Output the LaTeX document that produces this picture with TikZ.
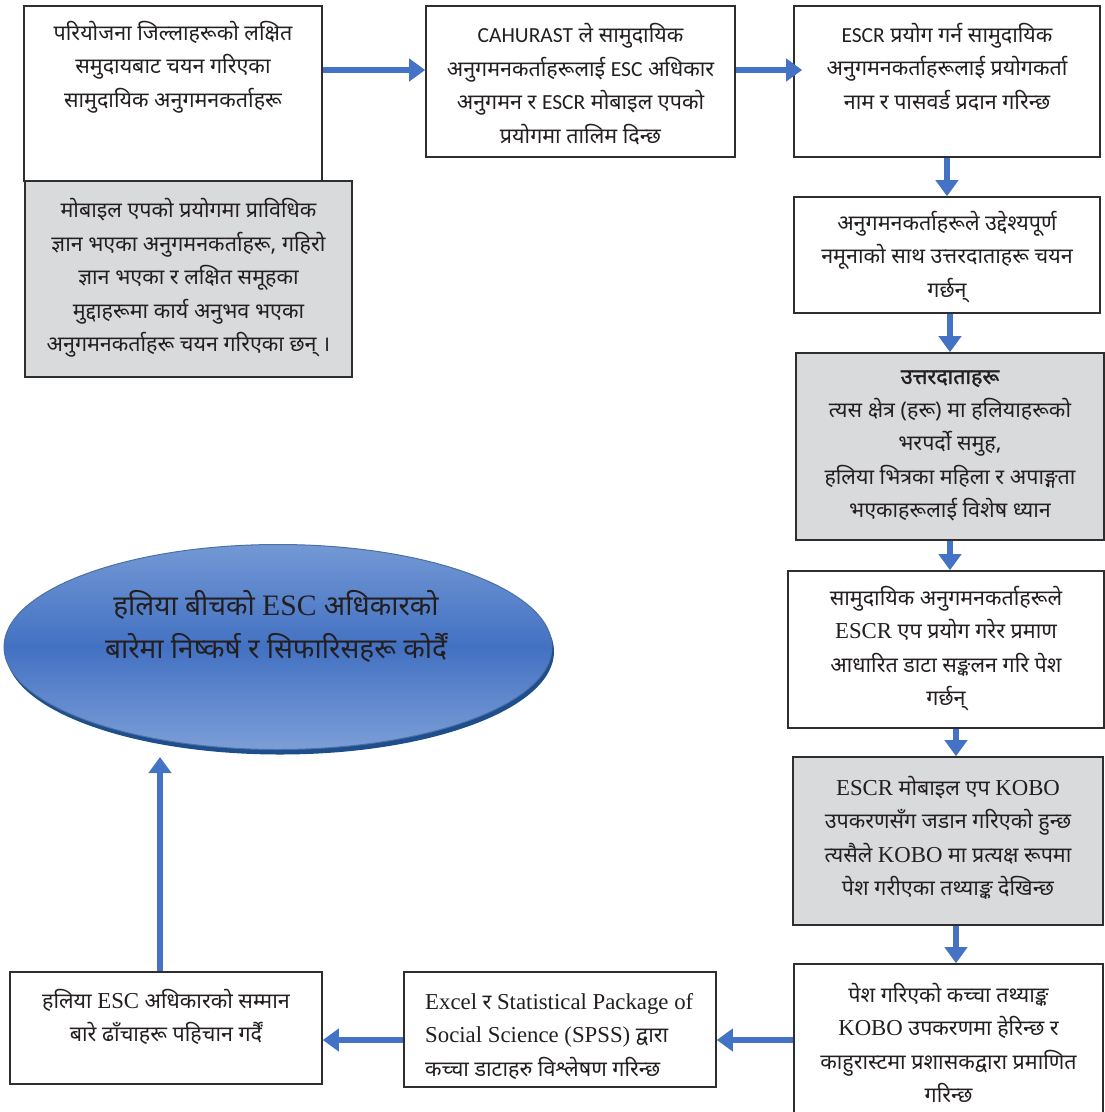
\documentclass[tikz,border=0pt]{standalone}
\usepackage{fontspec}
\usetikzlibrary{arrows.meta,shapes.geometric,calc}
\newfontfamily\dev[Script=Devanagari]{Noto Sans}
\newfontfamily\devb[Script=Devanagari,FakeBold=1.6]{Noto Sans}
\newfontfamily\tms[Scale=1.06]{Liberation Serif}
\newfontfamily\cbr{Carlito}
\newcommand{\tm}[1]{{\tms #1}}
\newcommand{\cb}[1]{{\cbr #1}}
\definecolor{arrblue}{HTML}{4472C4}
\definecolor{txtc}{HTML}{231F20}
\definecolor{boxgray}{HTML}{D9DADC}
\definecolor{bord}{HTML}{2E2E2E}
\definecolor{ellTop}{HTML}{7398D4}
\definecolor{ellMid}{HTML}{4371C2}
\definecolor{ellBot}{HTML}{7C9ED8}
\definecolor{ellRim}{HTML}{1F4E8C}
\tikzset{
  box/.style={draw=bord, line width=1.6pt, fill=white, inner sep=0pt},
  graybox/.style={box, fill=boxgray},
  txt/.style={align=center, text=txtc, inner sep=0pt, font=\dev\fontsize{21.5}{33.5}\selectfont},
  ltxt/.style={txt, align=left},
  arr/.style={draw=arrblue, line width=6.5pt, -{Triangle[width=22pt,length=16pt]}},
}
\begin{document}
\begin{tikzpicture}[x=1pt,y=-1pt]
\useasboundingbox (0,0) rectangle (1105,1112);
% boxes
\node[box, minimum width=298pt, minimum height=175pt] (A) at (173,93.5) {};
\node[graybox, minimum width=327pt, minimum height=196pt] (B) at (188.5,279) {};
\node[box, minimum width=309pt, minimum height=151pt] (C) at (580.5,81.5) {};
\node[box, minimum width=306pt, minimum height=151pt] (D) at (947,81.5) {};
\node[box, minimum width=306pt, minimum height=116pt] (E) at (947,255) {};
\node[graybox, minimum width=308pt, minimum height=187pt] (F) at (950,446.5) {};
\node[box, minimum width=316pt, minimum height=157pt] (G) at (946,649.5) {};
\node[graybox, minimum width=310pt, minimum height=168pt] (H) at (948,841) {};
\node[box, minimum width=309pt, minimum height=161pt] (I) at (948.5,1044.5) {};
\node[box, minimum width=312pt, minimum height=115pt] (J) at (560,1029.5) {};
\node[box, minimum width=312pt, minimum height=112pt] (K) at (166,1028) {};
% ellipse
\node[ellipse, fill=ellRim, minimum width=548pt, minimum height=206pt, inner sep=0pt] (Lsh) at (280,651.5) {};
\node[ellipse, draw=ellRim!80!white, line width=1pt, top color=ellTop, bottom color=ellBot, middle color=ellMid, minimum width=548pt, minimum height=205pt, inner sep=0pt] (L) at (278,647) {};
% texts
\node[txt] (At) at (173,67) {परियोजना जिल्लाहरूको लक्षित\\ समुदायबाट चयन गरिएका\\ सामुदायिक अनुगमनकर्ताहरू};
\node[txt] (Bt) at (188.5,278) {मोबाइल एपको प्रयोगमा प्राविधिक\\ ज्ञान भएका अनुगमनकर्ताहरू, गहिरो\\ ज्ञान भएका र लक्षित समूहका\\ मुद्दाहरूमा कार्य अनुभव भएका\\ अनुगमनकर्ताहरू चयन गरिएका छन् ।};
\node[txt] (Ct) at (580.5,84) {\cb{CAHURAST} ले सामुदायिक\\ अनुगमनकर्ताहरूलाई \cb{ESC} अधिकार\\ अनुगमन र \cb{ESCR} मोबाइल एपको\\ प्रयोगमा तालिम दिन्छ};
\node[txt] (Dt) at (947,67) {\cb{ESCR} प्रयोग गर्न सामुदायिक\\ अनुगमनकर्ताहरूलाई प्रयोगकर्ता\\ नाम र पासवर्ड प्रदान गरिन्छ};
\node[txt] (Et) at (947,257) {अनुगमनकर्ताहरूले उद्देश्यपूर्ण\\ नमूनाको साथ उत्तरदाताहरू चयन\\ गर्छन्};
\node[txt] (Ft) at (950,446) {{\devb उत्तरदाताहरू}\\ त्यस क्षेत्र (हरू) मा हलियाहरूको\\ भरपर्दो समुह,\\ हलिया भित्रका महिला र अपाङ्गता\\ भएकाहरूलाई विशेष ध्यान};
\node[txt] (Gt) at (946,648.5) {सामुदायिक अनुगमनकर्ताहरूले\\ \tm{ESCR} एप प्रयोग गरेर प्रमाण\\ आधारित डाटा सङ्कलन गरि पेश\\ गर्छन्};
\node[txt] (Ht) at (948,838) {\tm{ESCR} मोबाइल एप \tm{KOBO}\\ उपकरणसँग जडान गरिएको हुन्छ\\ त्यसैले \tm{KOBO} मा प्रत्यक्ष रूपमा\\ पेश गरीएका तथ्याङ्क देखिन्छ};
\node[txt] (It) at (948.5,1043) {पेश गरिएको कच्चा तथ्याङ्क\\ \tm{KOBO} उपकरणमा हेरिन्छ र\\ काहुरास्टमा प्रशासकद्वारा प्रमाणित\\ गरिन्छ};
\node[ltxt, anchor=west] (Jt) at (425,1036) {\tm{Excel} र \tm{Statistical Package of}\\ \tm{Social Science (SPSS)} द्वारा\\ कच्चा डाटाहरु विश्लेषण गरिन्छ};
\node[txt] (Kt) at (166,1017) {हलिया \tm{ESC} अधिकारको सम्मान\\ बारे ढाँचाहरू पहिचान गर्दैं};
\node[txt, font=\dev\fontsize{28}{43}\selectfont] (Lt) at (276,626) {हलिया बीचको \tm{ESC} अधिकारको\\ बारेमा निष्कर्ष र सिफारिसहरू कोर्दैं};
% connectors
\coordinate (tipL) at (160,757);
\draw[arr] (A.east |- 0,70) -- (C.west |- 0,70);
\draw[arr] (C.east |- 0,70) -- ([xshift=9pt]D.west |- 0,70);
\draw[arr] (D.south) -- (E.north);
\draw[arr] (E.south -| F.north) -- (F.north);
\draw[arr] (F.south) -- (F.south |- G.north);
\draw[arr] (G.south -| 956,0) -- (H.north -| 956,0);
\draw[arr] (H.south -| 956,0) -- (I.north -| 956,0);
\draw[arr] (I.west |- 0,1040) -- (J.east |- 0,1040);
\draw[arr] (J.west |- 0,1040) -- (K.east |- 0,1040);
\draw[arr] (K.north -| tipL) -- (tipL);
\end{tikzpicture}
\end{document}
